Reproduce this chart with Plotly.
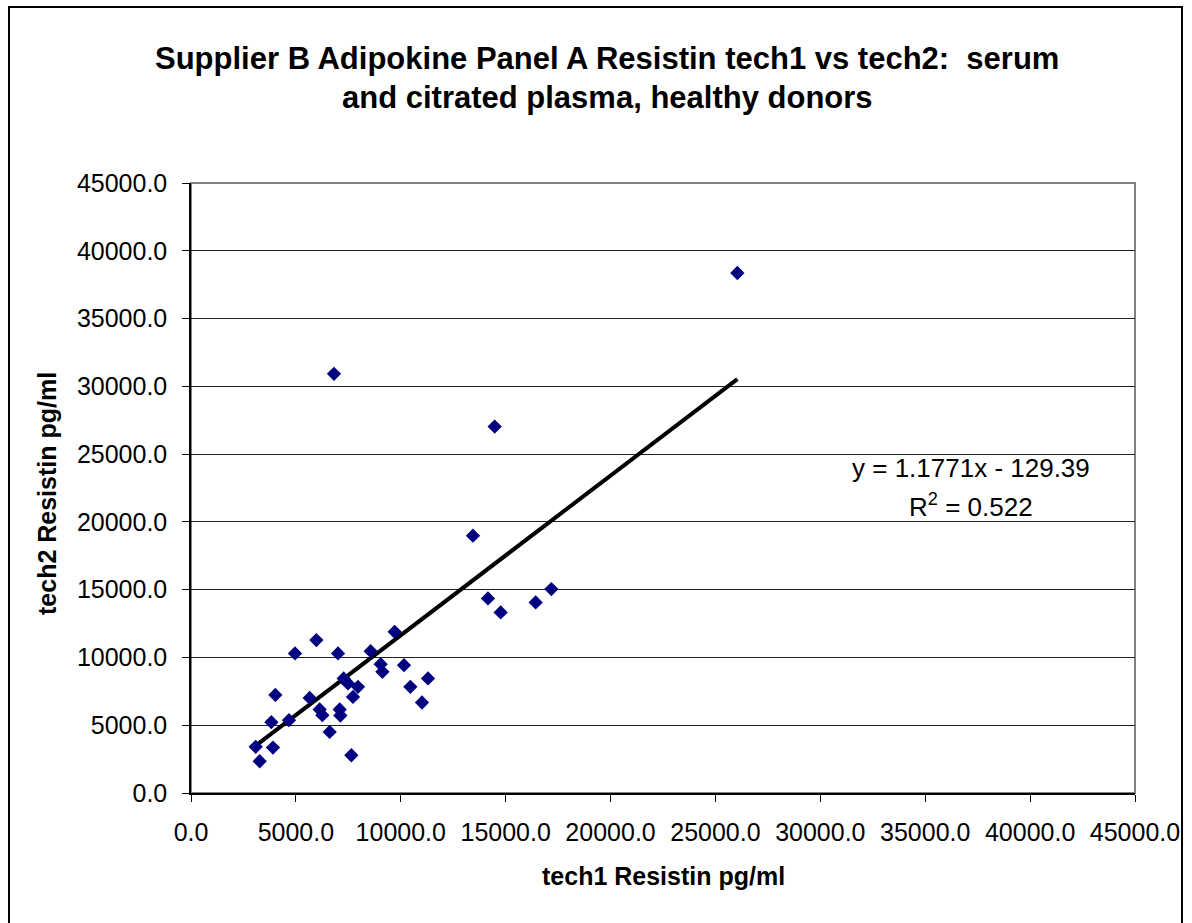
import plotly.graph_objects as go

# Data (tech1 vs tech2 Resistin, pg/ml)
tech1 = [3084, 3275, 3909, 3830, 4671, 4022, 4957, 5977, 5658, 6134,
         6263, 6611, 7007, 7088, 7120, 7278, 7483, 7722, 7960, 7645,
         8565, 9709, 9042, 9123, 10153, 10457, 11297, 11011,
         14476, 13441, 14156, 14762, 16430, 17178, 6816, 26044]
tech2 = [3405, 2341, 3353, 5222, 5370, 7238, 10295, 11278, 7016, 6160,
         5738, 4505, 10295, 6160, 5716, 8449, 8080, 7090, 7829, 2784,
         10465, 11891, 9505, 8937, 9431, 7829, 8449, 6677,
         27031, 18981, 14357, 13323, 14062, 15044, 30924, 38360]

slope = 1.1771
intercept = -129.39
eq_text = "y = 1.1771x - 129.39"
r2_text = "R<sup>2</sup> = 0.522"

title_line1 = "Supplier B Adipokine Panel A Resistin tech1 vs tech2:  serum"
title_line2 = "and citrated plasma, healthy donors"
x_title = "tech1 Resistin pg/ml"
y_title = "tech2 Resistin pg/ml"

tick_vals = [0, 5000, 10000, 15000, 20000, 25000, 30000, 35000, 40000, 45000]

W, H = 1192, 923
L, R, T, B = 191, 57, 183, 130
pw, ph = W - L - R, H - T - B

def px(xp):
    return (xp - L) / pw

def py(yp):
    return (H - B - yp) / ph

xmin, xmax = min(tech1), max(tech1)
trend_x = [xmin, xmax]
trend_y = [slope * v + intercept for v in trend_x]

FONT = "Liberation Sans, Arial, sans-serif"

fig = go.Figure()
fig.add_trace(go.Scatter(
    x=trend_x, y=trend_y, mode="lines",
    line=dict(color="black", width=4), showlegend=False, hoverinfo="skip"))
fig.add_trace(go.Scatter(
    x=tech1, y=tech2, mode="markers",
    marker=dict(symbol="diamond", size=11, color="#000080",
                line=dict(width=0)),
    showlegend=False))

axis_common = dict(
    range=[0, 45000], tickvals=tick_vals, tickformat=".1f",
    ticks="outside", ticklen=7, tickcolor="black", tickwidth=1,
    showline=True, linecolor="black", linewidth=1.5,
    tickfont=dict(family=FONT, size=25, color="black"),
    zeroline=False, fixedrange=True)

fig.update_xaxes(**axis_common, showgrid=False, ticklabelstandoff=9)
fig.update_yaxes(**axis_common, showgrid=True, gridcolor="#222222",
                 gridwidth=1, ticklabelstandoff=10)

annotations = [
    dict(text="<b>" + title_line1 + "</b>", x=px(607), y=py(58),
         xref="paper", yref="paper", showarrow=False,
         xanchor="center", yanchor="middle",
         font=dict(family=FONT, size=31, color="black")),
    dict(text="<b>" + title_line2 + "</b>", x=px(607), y=py(98),
         xref="paper", yref="paper", showarrow=False,
         xanchor="center", yanchor="middle",
         font=dict(family=FONT, size=31, color="black")),
    dict(text="<b>" + x_title + "</b>", x=px(663), y=py(876),
         xref="paper", yref="paper", showarrow=False,
         xanchor="center", yanchor="middle",
         font=dict(family=FONT, size=25, color="black")),
    dict(text="<b>" + y_title + "</b>", x=px(47), y=py(494),
         xref="paper", yref="paper", showarrow=False, textangle=-90,
         xanchor="center", yanchor="middle",
         font=dict(family=FONT, size=25, color="black")),
    dict(text=eq_text, x=px(971), y=py(468),
         xref="paper", yref="paper", showarrow=False,
         xanchor="center", yanchor="middle",
         font=dict(family=FONT, size=26, color="black")),
    dict(text=r2_text, x=px(971), y=py(505),
         xref="paper", yref="paper", showarrow=False,
         xanchor="center", yanchor="middle",
         font=dict(family=FONT, size=26, color="black")),
]

shapes = [
    # outer chart border
    dict(type="rect", xref="paper", yref="paper",
         x0=px(9), x1=px(1182), y0=py(925), y1=py(7),
         line=dict(color="black", width=2), layer="below"),
    # plot area border (gray)
    dict(type="rect", xref="paper", yref="paper",
         x0=0, x1=1, y0=0, y1=1,
         line=dict(color="#808080", width=2), layer="below"),
]

fig.update_layout(
    width=W, height=H,
    margin=dict(l=L, r=R, t=T, b=B, pad=0),
    paper_bgcolor="white", plot_bgcolor="white",
    annotations=annotations, shapes=shapes,
    font=dict(family=FONT, color="black"),
    showlegend=False,
)

fig.write_html("out.html", post_script="document.body.style.margin='0';",
               config={"displayModeBar": False})
